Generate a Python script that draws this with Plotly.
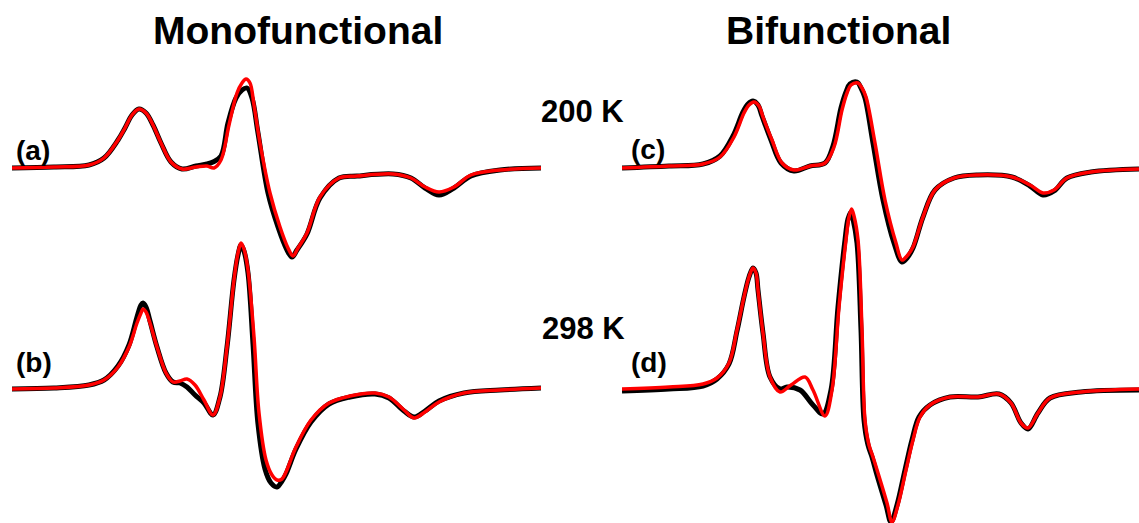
import plotly.graph_objects as go

# ---------------- data (field offset along each panel, signal intensity) ----------------
# Panel (a): Monofunctional, 200 K
a_field_fit = [0, 42, 77, 92, 106, 113, 120, 127, 134, 141, 149, 159, 170, 184, 195, 202, 209, 217, 225, 230, 234, 238, 242, 248, 258, 268, 276, 281, 286, 295, 308, 327, 345, 381, 399, 413, 427, 442, 459, 488, 529]
a_fit       = [0, 1, 3, 10, 28, 40, 53, 59, 55, 43, 25, 6, -1, 1, 2, 0, 8, 43, 75, 85, 89, 85, 63, 25, -25, -59, -80, -88, -80, -65, -29, -10, -8, -6, -10, -19, -24, -19, -7, -2, 0]
a_field_exp = [0, 42, 77, 92, 106, 113, 120, 127, 134, 141, 149, 159, 170, 184, 195, 201, 209, 216, 224, 230, 235, 240, 246, 256, 266, 275, 280, 285, 295, 308, 327, 345, 381, 399, 413, 427, 442, 459, 488, 529]
a_exp       = [0, 1, 3, 10, 28, 40, 53, 59, 55, 43, 25, 6, -1, 2, 4, 6, 12, 45, 70, 78, 80, 70, 35, -25, -59, -82, -89, -82, -66, -30, -10, -8, -6, -10, -20, -27, -20, -8, -2, 0]

# Panel (b): Monofunctional, 298 K
b_field_fit = [0, 42, 77, 92, 106, 117, 125, 129, 131, 134, 138, 145, 154, 161, 168, 175, 183, 192, 201, 208, 215, 222, 226, 229, 232, 236, 242, 247, 254, 260, 265, 270, 274, 284, 299, 317, 338, 363, 377, 392, 402, 413, 427, 452, 488, 529]
b_fit       = [0, 1, 4, 9, 22, 42, 66, 76, 80, 77, 66, 42, 16, 7, 8, 10, 4, -11, -26, -8, 42, 109, 136, 146, 140, 119, 52, -24, -71, -86, -91, -90, -83, -58, -31, -14, -7, -4, -8, -21, -29, -23, -13, -4, -1, 1]
b_field_exp = [0, 42, 77, 92, 106, 117, 125, 129, 131, 134, 138, 145, 154, 161, 168, 175, 183, 192, 201, 208, 215, 222, 226, 229, 232, 236, 241, 246, 253, 259, 265, 270, 274, 284, 299, 317, 338, 363, 377, 392, 402, 413, 427, 452, 488, 529]
b_exp       = [0, 1, 4, 9, 23, 44, 72, 84, 86, 82, 68, 42, 16, 7, 6, 2, -6, -14, -26, -8, 42, 109, 134, 144, 138, 116, 45, -35, -80, -94, -98, -92, -85, -60, -33, -15, -8, -5, -9, -22, -28, -22, -12, -4, -1, 1]

# Panel (c): Bifunctional, 200 K
c_field_fit = [0, 47, 81, 98, 112, 122, 127, 132, 137, 141, 150, 160, 172, 188, 203, 212, 220, 225, 229, 236, 240, 244, 253, 263, 274, 280, 285, 291, 301, 313, 332, 356, 390, 408, 421, 432, 445, 469, 517]
c_fit       = [0, 2, 4, 11, 31, 55, 63, 66, 62, 51, 28, 5, -2, 2, 5, 21, 58, 75, 83, 85, 80, 71, 25, -32, -75, -92, -88, -79, -49, -22, -10, -7, -9, -17, -25, -22, -10, -4, -1]
c_field_exp = [0, 47, 81, 98, 111, 121, 126, 131, 136, 140, 149, 159, 172, 188, 203, 211, 219, 224, 228, 235, 239, 243, 251, 261, 272, 280, 285, 291, 301, 313, 332, 356, 390, 408, 421, 432, 445, 469, 517]
c_exp       = [0, 2, 4, 12, 32, 56, 64, 67, 63, 52, 28, 5, -3, 2, 5, 22, 60, 76, 84, 86, 80, 70, 25, -32, -75, -94, -90, -80, -49, -22, -10, -7, -9, -18, -27, -23, -10, -4, -1]

# Panel (d): Bifunctional, 298 K
d_field_fit = [0, 47, 81, 95, 107, 115, 122, 127, 131, 134, 136, 141, 148, 158, 169, 183, 191, 203, 210, 217, 224, 227, 229.6, 232, 236, 240, 243, 247, 251, 256, 265, 270, 276, 284, 291, 298, 308, 328, 356, 377, 389, 399, 406, 416, 428, 459, 517]
d_fit       = [0, 2, 5, 11, 26, 59, 92, 112, 121, 116, 99, 56, 12, -3, 4, 12, -1, -27, -1, 82, 149, 172, 180, 173, 149, 59, -31, -56, -68, -84, -114, -133, -116, -81, -51, -28, -16, -8, -8, -5, -14, -34, -39, -24, -9, -3, 0]
d_field_exp = [0, 47, 81, 95, 107, 115, 122, 127, 131, 134, 136, 141, 148, 158, 165, 178, 191, 201, 209, 216, 223, 226, 229, 231, 235, 239, 242, 246, 250, 255, 264, 269, 275, 283, 290, 297, 308, 328, 356, 377, 389, 399, 406, 416, 428, 459, 517]
d_exp       = [-2, 0, 3, 10, 25, 58, 92, 112, 121, 116, 99, 56, 12, 0, 2, -1, -16, -25, -1, 82, 149, 170, 177, 170, 146, 59, -31, -56, -68, -86, -116, -133, -116, -81, -51, -28, -16, -8, -8, -5, -14, -34, -40, -24, -9, -3, -1]

panel_labels = ["(a)", "(b)", "(c)", "(d)"]
column_titles = ["Monofunctional", "Bifunctional"]
temperature_labels = ["200 K", "298 K"]

# ---------------- figure ----------------
W, H = 1139, 523
fig = go.Figure()

panels = [
    (a_field_exp, a_exp, a_field_fit, a_fit),
    (b_field_exp, b_exp, b_field_fit, b_fit),
    (c_field_exp, c_exp, c_field_fit, c_fit),
    (d_field_exp, d_exp, d_field_fit, d_fit),
]
# layout geometry: (left px, right px, baseline px)
geom = [(12, 541, 168), (12, 541, 389), (622, 1139, 168), (622, 1139, 389)]

layout_axes = {}
for i, ((fx, ex, ffx, fit), (l, r, base)) in enumerate(zip(panels, geom)):
    n = "" if i == 0 else str(i + 1)
    xa, ya = "x" + n, "y" + n
    fig.add_trace(go.Scatter(x=fx, y=ex, mode="lines", xaxis=xa, yaxis=ya,
                             line=dict(color="black", width=5, shape="spline", smoothing=1.0),
                             showlegend=False, hoverinfo="skip", cliponaxis=False))
    fig.add_trace(go.Scatter(x=ffx, y=fit, mode="lines", xaxis=xa, yaxis=ya,
                             line=dict(color="#ff0000", width=3.5, shape="spline", smoothing=1.0),
                             showlegend=False, hoverinfo="skip", cliponaxis=False))
    layout_axes["xaxis" + n] = dict(domain=[l / W, r / W], range=[0, r - l], visible=False,
                                    anchor=ya)
    layout_axes["yaxis" + n] = dict(domain=[0, 1], range=[base - H, base], visible=False,
                                    anchor=xa)

fig.update_layout(**layout_axes)

font_family = "Liberation Sans, Arial, Helvetica, sans-serif"
ann = []
def add_text(text, xc, yc, size):
    ann.append(dict(text="<b>" + text + "</b>", x=xc / W, y=1 - yc / H, xref="paper", yref="paper",
                    xanchor="center", yanchor="middle", showarrow=False,
                    font=dict(family=font_family, size=size, color="black")))

add_text(column_titles[0], 298, 30, 39)
add_text(column_titles[1], 838, 30, 39)
add_text(temperature_labels[0], 582, 112, 31)
add_text(temperature_labels[1], 583, 328, 31)
add_text(panel_labels[0], 33, 150, 28)
add_text(panel_labels[1], 34, 362, 28)
add_text(panel_labels[2], 648, 149, 28)
add_text(panel_labels[3], 649, 362, 28)

fig.update_layout(annotations=ann, width=W, height=H,
                  margin=dict(l=0, r=0, t=0, b=0),
                  paper_bgcolor="white", plot_bgcolor="rgba(0,0,0,0)")

fig.write_html("out.html", config={"displayModeBar": False},
               post_script="document.body.style.margin='0';document.body.style.padding='0';")
